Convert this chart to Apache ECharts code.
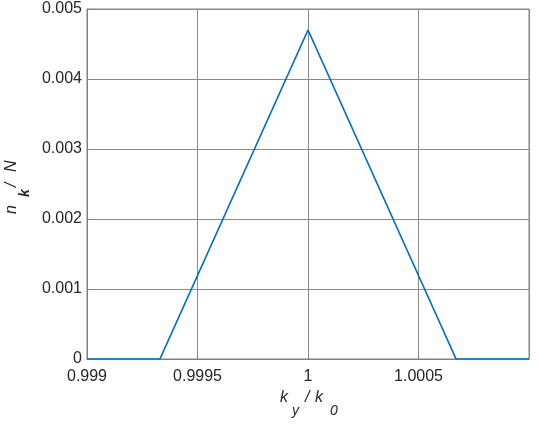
<!DOCTYPE html>
<html>
<head>
<meta charset="utf-8">
<script src="https://cdn.jsdelivr.net/npm/echarts@6/dist/echarts.min.js"></script>
<style>html,body{margin:0;padding:0;background:#fff;}#c{width:538px;height:424px;}</style>
</head>
<body>
<div id="c"></div>
<script>
// Data
const xValues = [0.999, 0.99933, 1.0, 1.00067, 1.001];
const yValues = [0, 0, 0.0047, 0, 0];
const xTicks = [0.999, 0.9995, 1, 1.0005];
const yTicks = [0, 0.001, 0.002, 0.003, 0.004, 0.005];

const FONT = 'Liberation Sans';
const chart = echarts.init(document.getElementById('c'), null, {renderer: 'canvas'});
const linePoints = xValues.map((x, i) => [x, yValues[i]]);

function fmtX(v) {
  for (const t of xTicks) if (Math.abs(v - t) < 1e-9) return String(t);
  return '';
}
function fmtY(v) {
  for (const t of yTicks) if (Math.abs(v - t) < 1e-12) return String(t);
  return '';
}

chart.setOption({
  animation: false,
  backgroundColor: '#ffffff',
  grid: {left: 87, right: 9, top: 9, bottom: 65, show: true, borderColor: '#808080', borderWidth: 1, containLabel: false},
  xAxis: {
    type: 'value', min: 0.999, max: 1.001, interval: 0.0005,
    axisLine: {show: true, lineStyle: {color: '#808080', width: 1}},
    axisTick: {show: true, inside: true, length: 4, lineStyle: {color: '#808080'}},
    splitLine: {show: true, lineStyle: {color: '#8a8a8a', width: 1}},
    axisLabel: {formatter: fmtX, color: '#262626', fontFamily: FONT, fontSize: 16, margin: 10, showMaxLabel: false}
  },
  yAxis: {
    type: 'value', min: 0, max: 0.005, interval: 0.001,
    axisLine: {show: true, lineStyle: {color: '#808080', width: 1}},
    axisTick: {show: true, inside: true, length: 4, lineStyle: {color: '#808080'}},
    splitLine: {show: true, lineStyle: {color: '#8a8a8a', width: 1}},
    axisLabel: {formatter: fmtY, color: '#262626', fontFamily: FONT, fontSize: 16, margin: 5, padding: [4, 0, 0, 0]}
  },
  series: [{
    type: 'line', data: linePoints, showSymbol: false, symbol: 'none',
    lineStyle: {color: '#0072BD', width: 1.7}, clip: true
  }],
  graphic: [
    {type: 'text', left: 280, top: 390, style: {text: 'k', font: 'italic 16px ' + FONT, fill: '#262626'}},
    {type: 'text', left: 292, top: 404, style: {text: 'y', font: 'italic 14px ' + FONT, fill: '#262626'}},
    {type: 'text', left: 305, top: 390, style: {text: '/', font: 'italic 16px ' + FONT, fill: '#262626'}},
    {type: 'text', left: 315, top: 390, style: {text: 'k', font: 'italic 16px ' + FONT, fill: '#262626'}},
    {type: 'text', left: 330, top: 404, style: {text: '0', font: 'italic 14px ' + FONT, fill: '#262626'}},
    {type: 'text', x: 4, y: 214, rotation: Math.PI / 2, style: {text: 'n', font: 'italic 16px ' + FONT, fill: '#262626'}},
    {type: 'text', x: 18, y: 197, rotation: Math.PI / 2, style: {text: 'k', font: 'italic bold 14px ' + FONT, fill: '#262626'}},
    {type: 'text', x: 4, y: 187, rotation: Math.PI / 2, style: {text: '/', font: 'italic 16px ' + FONT, fill: '#262626'}},
    {type: 'text', x: 4, y: 172, rotation: Math.PI / 2, style: {text: 'N', font: 'italic 16px ' + FONT, fill: '#262626'}}
  ]
});
</script>
</body>
</html>
